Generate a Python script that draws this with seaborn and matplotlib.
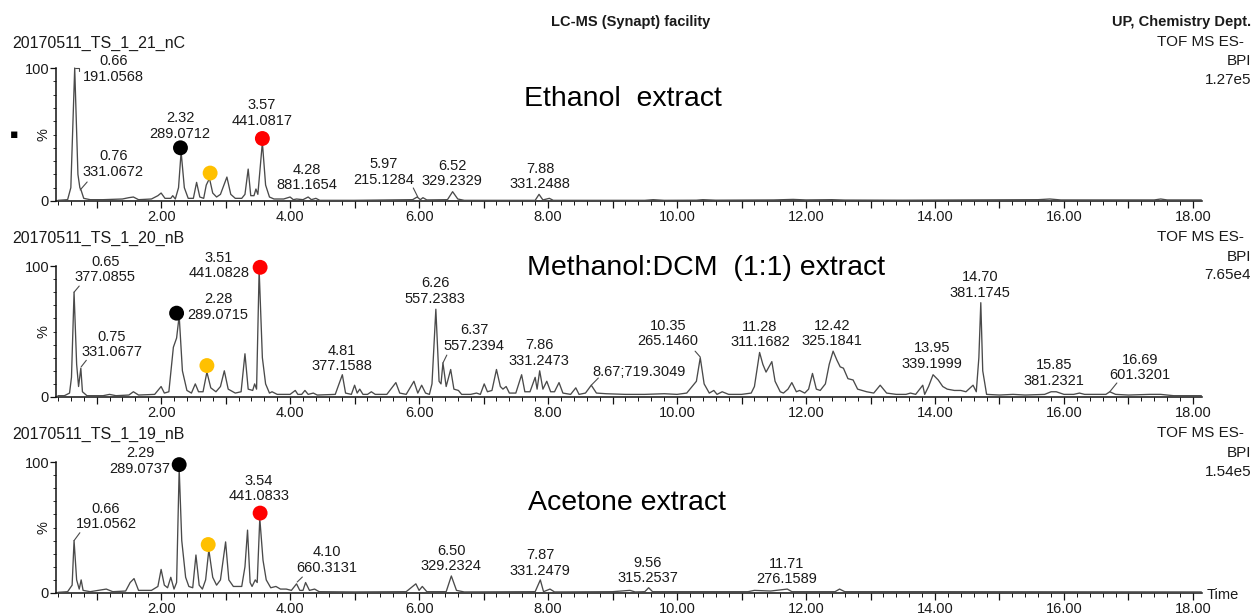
import numpy as np
import pandas as pd
import matplotlib
matplotlib.use("Agg")
import matplotlib.pyplot as plt
from matplotlib.ticker import MultipleLocator, FuncFormatter, FixedLocator
import seaborn as sns

# ---------------- data ----------------
ethanol_time = [0.40, 0.55, 0.60, 0.66, 0.71, 0.74, 0.76, 0.80, 0.90, 1.10, 1.40, 1.50, 1.57, 1.65, 1.85, 1.95,
                2.00, 2.06, 2.15, 2.18, 2.22, 2.27, 2.31, 2.36, 2.42, 2.50, 2.55, 2.60, 2.66, 2.70, 2.75, 2.80,
                2.86, 2.92, 3.02, 3.08, 3.15, 3.25, 3.30, 3.35, 3.39, 3.44, 3.47, 3.50, 3.57, 3.62, 3.68, 3.75,
                3.90, 4.00, 4.05, 4.10, 4.20, 4.28, 4.33, 4.40, 4.46, 5.00, 5.90, 5.97, 6.02, 6.06, 6.12, 6.44,
                6.52, 6.60, 6.70, 7.80, 7.86, 7.92, 8.02, 8.08, 9.50, 9.63, 9.80, 10.30, 10.40, 10.60, 11.50,
                11.80, 12.00, 12.40, 12.60, 13.50, 15.60, 15.78, 15.95, 17.40, 17.50, 17.60, 18.13]
ethanol_int = [0.5, 1, 10, 100, 20, 10, 8, 2, 1, 1, 1.5, 2.5, 3, 1, 1.5, 4,
               6, 2, 2, 4, 1.5, 10, 37, 10, 2, 2, 14, 3, 2, 12, 17, 6,
               3, 5, 18, 5, 2, 2, 5, 24, 4, 4, 9, 5, 44, 12, 3, 1.5,
               1.5, 3, 1, 1.5, 1, 3, 1, 2, 0.5, 0.5, 1, 3, 1, 2.5, 0.8, 1,
               7, 1.5, 0.5, 0.5, 5, 0.8, 2, 0.5, 0.5, 1, 0.5, 0.6, 1, 0.6, 0.8,
               1.2, 0.8, 1, 0.7, 0.6, 1.0, 1.5, 0.8, 0.8, 1.5, 0.8, 0.8]

mdcm_time = [0.40, 0.50, 0.58, 0.61, 0.65, 0.69, 0.72, 0.755, 0.78, 0.85, 1.10, 1.20, 1.30, 1.50, 1.57, 1.65,
             1.90, 2.00, 2.05, 2.12, 2.19, 2.24, 2.28, 2.33, 2.40, 2.47, 2.53, 2.58, 2.65, 2.71, 2.77, 2.85,
             2.92, 2.98, 3.04, 3.15, 3.24, 3.30, 3.35, 3.42, 3.45, 3.48, 3.52, 3.57, 3.62, 3.68, 3.72, 3.80,
             3.90, 4.00, 4.08, 4.12, 4.18, 4.23, 4.28, 4.36, 4.42, 4.70, 4.81, 4.86, 4.95, 5.00, 5.04, 5.08,
             5.13, 5.20, 5.26, 5.32, 5.50, 5.64, 5.70, 5.80, 5.92, 5.98, 6.04, 6.10, 6.16, 6.20, 6.26, 6.31,
             6.34, 6.37, 6.42, 6.49, 6.54, 6.61, 6.66, 6.80, 6.89, 6.95, 7.01, 7.06, 7.13, 7.20, 7.26, 7.30,
             7.35, 7.40, 7.50, 7.59, 7.64, 7.72, 7.80, 7.83, 7.87, 7.92, 7.98, 8.04, 8.10, 8.17, 8.23, 8.35,
             8.43, 8.48, 8.58, 8.67, 8.75, 8.90, 9.20, 9.50, 9.80, 10.00, 10.15, 10.25, 10.30, 10.36, 10.42,
             10.50, 10.57, 10.62, 10.70, 10.80, 11.00, 11.15, 11.20, 11.28, 11.33, 11.38, 11.47, 11.52, 11.60,
             11.65, 11.72, 11.78, 11.85, 11.90, 11.98, 12.04, 12.10, 12.16, 12.22, 12.30, 12.36, 12.42, 12.48,
             12.53, 12.58, 12.65, 12.73, 12.80, 12.94, 13.05, 13.15, 13.25, 13.40, 13.55, 13.62, 13.70, 13.81,
             13.84, 13.90, 13.97, 14.05, 14.12, 14.19, 14.30, 14.40, 14.48, 14.59, 14.64, 14.68, 14.71, 14.74,
             14.80, 15.00, 15.21, 15.40, 15.70, 15.80, 15.88, 16.00, 16.15, 16.24, 16.32, 16.55, 16.65, 16.71,
             16.80, 17.00, 17.33, 17.50, 17.70, 18.13]
mdcm_int = [1, 1, 3, 15, 80, 25, 8, 22, 4, 1, 1, 2, 1, 1.5, 4, 1.5,
            2, 8, 3, 4, 38, 45, 62, 20, 5, 3, 10, 4, 4, 19, 7, 4,
            8, 20, 6, 3, 4, 33, 6, 5, 10, 6, 97, 30, 10, 3, 4, 2,
            2, 2, 5, 2, 2, 5, 2, 3, 1.5, 2, 17, 3, 2, 9, 3, 6,
            2, 2, 4, 2, 2, 11, 3, 2, 12, 3, 9, 3, 2, 10, 67, 12,
            10, 26, 8, 21, 6, 5, 2, 2, 3, 2, 10, 4, 5, 21, 8, 6,
            8, 3, 3, 17, 4, 4, 15, 6, 20, 6, 12, 4, 4, 11, 3, 2,
            7, 2, 3, 9, 3, 2.5, 2, 2, 2.5, 2, 3, 9, 12, 30, 10,
            3, 5, 2, 4, 2, 2, 3, 8, 34, 25, 19, 27, 12, 4,
            3, 6, 11, 4, 5, 3, 6, 18, 6, 5, 10, 25, 35, 28,
            23, 22, 14, 13, 6, 4, 3, 9, 3, 2, 2, 3, 2, 9,
            2, 8, 17, 13, 8, 6, 5, 5, 4, 9, 4, 30, 72, 20,
            2, 1.5, 2, 1.5, 2, 4, 4, 2, 2, 3, 2, 2, 2, 4,
            2, 1.5, 2, 2, 1, 1]

acetone_time = [0.40, 0.55, 0.62, 0.65, 0.69, 0.73, 0.76, 0.79, 0.90, 1.15, 1.25, 1.45, 1.52, 1.58, 1.65, 1.85,
                1.95, 2.00, 2.05, 2.10, 2.15, 2.20, 2.24, 2.28, 2.32, 2.38, 2.43, 2.49, 2.54, 2.59, 2.64, 2.69,
                2.74, 2.80, 2.86, 2.92, 3.00, 3.05, 3.12, 3.25, 3.30, 3.34, 3.38, 3.41, 3.46, 3.49, 3.53, 3.58,
                3.63, 3.70, 3.78, 3.85, 3.94, 4.02, 4.10, 4.15, 4.20, 4.24, 4.30, 4.38, 4.45, 5.00, 5.80, 5.95,
                6.00, 6.05, 6.12, 6.42, 6.50, 6.58, 6.70, 7.80, 7.88, 7.93, 8.03, 8.10, 9.00, 9.27, 9.35, 9.50,
                9.56, 9.62, 10.50, 11.10, 11.20, 11.45, 11.71, 11.78, 12.45, 12.52, 12.60, 14.00, 18.13]
acetone_int = [0.5, 1, 6, 40, 10, 3, 10, 2, 1, 3, 1, 1.5, 8, 11, 2, 2,
               5, 18, 6, 4, 12, 3, 8, 95, 40, 12, 5, 4, 29, 6, 3, 10,
               33, 12, 6, 10, 39, 10, 5, 5, 20, 48, 8, 5, 10, 8, 57, 25,
               10, 4, 5, 3, 3, 2, 7, 2, 2, 8, 2, 3, 1, 0.8, 1, 7,
               2, 5, 1, 1, 13, 2, 0.8, 1, 10, 1, 3, 0.8, 1, 2, 0.8, 1,
               4, 1, 1, 1, 2, 1.5, 3, 1, 1, 3, 1, 1, 0.8]

sample_names = ["20170511_TS_1_21_nC", "20170511_TS_1_20_nB", "20170511_TS_1_19_nB"]
extract_titles = ["Ethanol  extract", "Methanol:DCM  (1:1) extract", "Acetone extract"]
bpi_max = ["1.27e5", "7.65e4", "1.54e5"]

# peak labels: (retention time text, m/z text)
ethanol_labels = [("0.66", "191.0568"), ("0.76", "331.0672"), ("2.32", "289.0712"), ("3.57", "441.0817"),
                  ("4.28", "881.1654"), ("5.97", "215.1284"), ("6.52", "329.2329"), ("7.88", "331.2488")]
mdcm_labels = [("0.65", "377.0855"), ("0.75", "331.0677"), ("3.51", "441.0828"), ("2.28", "289.0715"),
               ("4.81", "377.1588"), ("6.26", "557.2383"), ("6.37", "557.2394"), ("7.86", "331.2473"),
               ("8.67", "719.3049"), ("10.35", "265.1460"), ("11.28", "311.1682"), ("12.42", "325.1841"),
               ("13.95", "339.1999"), ("14.70", "381.1745"), ("15.85", "381.2321"), ("16.69", "601.3201")]
acetone_labels = [("2.29", "289.0737"), ("0.66", "191.0562"), ("3.54", "441.0833"), ("4.10", "660.3131"),
                  ("6.50", "329.2324"), ("7.87", "331.2479"), ("9.56", "315.2537"), ("11.71", "276.1589")]

# highlighted compounds (black, orange, red)
marker_names = ["black", "orange", "red"]
ethanol_marker_time = [2.30, 2.76, 3.57]
ethanol_marker_int = [40, 21, 47]
mdcm_marker_time = [2.24, 2.71, 3.535]
mdcm_marker_int = [64, 24, 99]
acetone_marker_time = [2.28, 2.73, 3.535]
acetone_marker_int = [98, 37, 61]

# ---------------- layout (positions of labels in data units) ----------------
ethanol_label_pos = [(1.256, 99.2), (1.256, 27.8), (2.295, 56.4), (3.566, 66.2), (4.264, 17.7),
                     (5.457, 21.8), (6.512, 20.7), (7.876, 18.4)]
mdcm_label_pos = [(1.132, 97.3), (1.240, 40.1), (2.899, 100.4), (2.884, 68.7), (4.806, 29.4),
                  (6.248, 80.9), (6.853, 45.0), (7.860, 33.6), (9.411, 19.1), (9.860, 48.5),
                  (11.287, 47.7), (12.400, 48.5), (13.953, 31.3), (14.698, 85.5), (15.845, 18.3),
                  (17.178, 22.5)]
acetone_label_pos = [(1.674, 100.8), (1.147, 58.4), (3.519, 79.8), (4.574, 25.2), (6.496, 26.3),
                     (7.876, 22.9), (9.550, 17.2), (11.705, 16.4)]
one_line = {(1, 8)}  # label drawn as "rt;m/z" on one line

ethanol_leaders = [[(0.665, 100), (0.72, 100), (0.72, 98)], [(0.745, 8.3), (0.853, 14.3)],
                   [(5.98, 3), (5.91, 9.8)]]
mdcm_leaders = [[(0.65, 80), (0.73, 84.7)], [(0.76, 23), (0.84, 28)], [(2.28, 63), (2.33, 65), (2.34, 63)],
                [(6.37, 26), (6.43, 32)], [(8.67, 9), (8.78, 14.5)], [(10.36, 30.5), (10.28, 35)],
                [(16.71, 4), (16.82, 10.7)]]
acetone_leaders = [[(0.65, 40), (0.74, 46)], [(4.11, 8.4), (4.19, 12.2)]]

# ---------------- style ----------------
sns.set_style("ticks")
plt.rcParams['font.family'] = ['Liberation Sans', 'DejaVu Sans']
TXT = '#1a1a1a'
LINE = '#4a4a4a'
SMALL = 10.5

W, H = 1253, 615
fig = plt.figure(figsize=(W / 100, H / 100), dpi=100)

panels = [
    dict(t=ethanol_time, y=ethanol_int, labels=ethanol_labels, pos=ethanol_label_pos,
         mt=ethanol_marker_time, mi=ethanol_marker_int, leaders=ethanol_leaders,
         y0=201, scale=1.33, title_pos=(9.163, 76.7)),
    dict(t=mdcm_time, y=mdcm_int, labels=mdcm_labels, pos=mdcm_label_pos,
         mt=mdcm_marker_time, mi=mdcm_marker_int, leaders=mdcm_leaders,
         y0=397, scale=1.31, title_pos=(10.45, 98.5)),
    dict(t=acetone_time, y=acetone_int, labels=acetone_labels, pos=acetone_label_pos,
         mt=acetone_marker_time, mi=acetone_marker_int, leaders=acetone_leaders,
         y0=593, scale=1.31, title_pos=(9.225, 68.7)),
]

x_left_px, x_right_px = 56, 1202
xlim = (0.37, 18.14)
axes_h_px = 171
palette = {"black": "#000000", "orange": "#FFC000", "red": "#FF0000"}

for i, p in enumerate(panels):
    bottom = (H - p['y0']) / H
    ax = fig.add_axes([x_left_px / W, bottom, (x_right_px - x_left_px) / W, axes_h_px / H])
    ax.set_facecolor('none')
    df = pd.DataFrame({'time': p['t'], 'intensity': p['y']})
    sns.lineplot(data=df, x='time', y='intensity', ax=ax, color=LINE, linewidth=0.95,
                 estimator=None, sort=False, zorder=3)
    mdf = pd.DataFrame({'time': p['mt'], 'intensity': p['mi'], 'compound': marker_names})
    sns.scatterplot(data=mdf, x='time', y='intensity', hue='compound', palette=palette, ax=ax,
                    s=115, edgecolor='none', legend=False, zorder=5, clip_on=False)
    ax.set_xlim(*xlim)
    ax.set_ylim(0, axes_h_px / p['scale'])
    ax.set_xlabel('')
    ax.set_ylabel('')
    sns.despine(ax=ax)
    ax.spines['left'].set_bounds(0, 100)
    for s in ('left', 'bottom'):
        ax.spines[s].set_color('#111111')
        ax.spines[s].set_linewidth(1.1)

    ax.xaxis.set_major_locator(MultipleLocator(1))
    ax.xaxis.set_minor_locator(MultipleLocator(0.2))
    ax.xaxis.set_major_formatter(FuncFormatter(lambda v, _: f"{v:.2f}" if int(round(v)) % 2 == 0 else ""))
    ax.yaxis.set_major_locator(FixedLocator([0, 100]))
    ax.yaxis.set_minor_locator(FixedLocator(list(range(10, 100, 10))))
    ax.tick_params(axis='x', which='major', length=5, width=0.9, pad=1.5, labelsize=SMALL,
                   colors='#111111', labelcolor=TXT)
    ax.tick_params(axis='x', which='minor', length=3, width=0.7, colors='#111111')
    ax.tick_params(axis='y', which='major', length=4, width=0.9, pad=1, labelsize=SMALL,
                   colors='#111111', labelcolor=TXT)
    ax.tick_params(axis='y', which='minor', length=2.5, width=0.6, colors='#111111')

    # "%" axis label
    ax.text(0.17, 50, '%', rotation=90, ha='center', va='center', fontsize=SMALL, color=TXT, clip_on=False)
    if i == 0:
        ax.text(-0.28, 50, '\u25aa', ha='center', va='center', fontsize=9, color='black',
                family=['DejaVu Sans'], clip_on=False)

    # peak annotations
    for j, ((rt, mz), (lx, ly)) in enumerate(zip(p['labels'], p['pos'])):
        txt = f"{rt};{mz}" if (i, j) in one_line else f"{rt}\n{mz}"
        ax.text(lx, ly, txt, ha='center', va='center', fontsize=SMALL, color=TXT,
                linespacing=1.12, clip_on=False, zorder=6)
    for seg in p['leaders']:
        xs, ys = zip(*seg)
        ax.plot(xs, ys, color=LINE, linewidth=0.8, clip_on=False, zorder=4)

    # extract title
    ax.text(p['title_pos'][0], p['title_pos'][1], extract_titles[i], ha='center', va='center',
            fontsize=20.5, color='black', clip_on=False)

# ---------------- header texts ----------------
def ftext(x, y, s, **kw):
    fig.text(x / W, 1 - y / H, s, **kw)

ftext(631, 22, "LC-MS (Synapt) facility", ha='center', va='center', fontsize=10.5,
      fontweight='bold', color=TXT)
ftext(1251, 22, "UP, Chemistry Dept.", ha='right', va='center', fontsize=10.5,
      fontweight='bold', color=TXT)

name_y = [43, 238, 434]
info_y = [(42, 61, 80), (237, 257, 275), (433, 453, 472)]
for i in range(3):
    ftext(12, name_y[i], sample_names[i], ha='left', va='center', fontsize=11.5, color=TXT)
    ftext(1244, info_y[i][0], "TOF MS ES-", ha='right', va='center', fontsize=11, color=TXT)
    ftext(1251, info_y[i][1], "BPI", ha='right', va='center', fontsize=11, color=TXT)
    ftext(1251, info_y[i][2], bpi_max[i], ha='right', va='center', fontsize=11, color=TXT)

ftext(1207, 595, "Time", ha='left', va='center', fontsize=SMALL, color=TXT)

fig.savefig("out.png", dpi=100)
